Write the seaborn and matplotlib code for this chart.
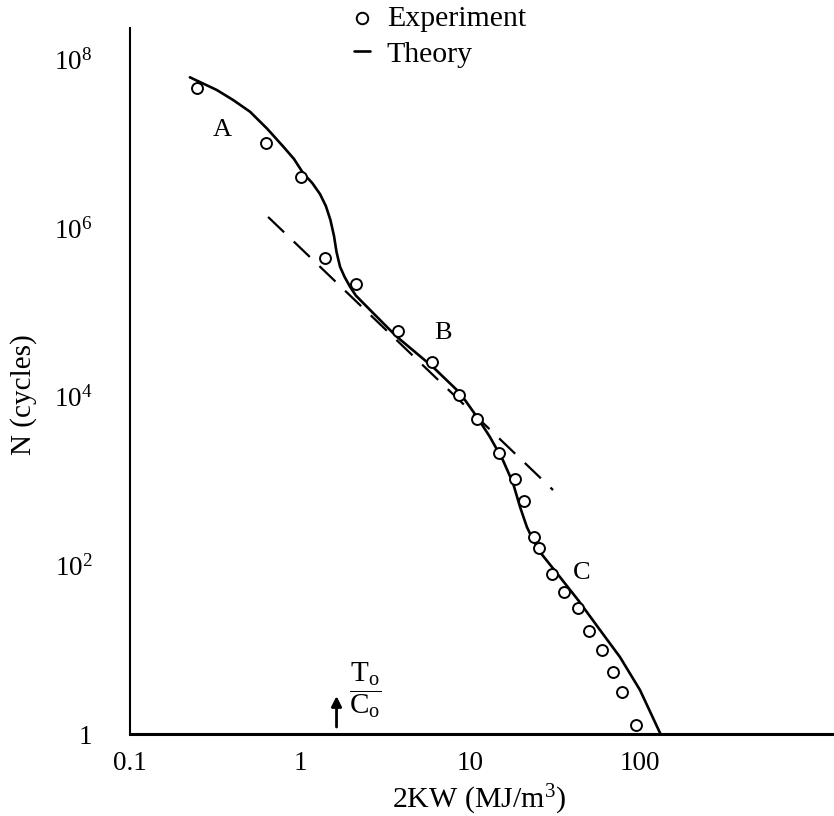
import matplotlib
matplotlib.use("Agg")
import matplotlib.pyplot as plt
import seaborn as sns
import numpy as np
import pandas as pd
from matplotlib.ticker import NullLocator

# ---------------- data ----------------
exp_x = [0.248, 0.628, 1.01, 1.40, 2.13, 3.79, 6.00, 8.65, 11.0, 14.8, 18.5,
         20.8, 23.8, 25.6, 30.5, 35.5, 43.3, 50.3, 59.4, 69.3, 78.0, 95.1]
exp_y = [4.64e7, 1.03e7, 4.08e6, 4.47e5, 2.16e5, 6.08e4, 2.61e4, 1.05e4, 5.41e3,
         2.17e3, 1.05e3, 581, 217, 163, 78.6, 48.0, 31.0, 16.5, 9.92, 5.48, 3.18, 1.28]

theory_x = [0.225, 0.324, 0.404, 0.508, 0.640, 0.798, 0.922, 1.045, 1.18, 1.31,
            1.42, 1.51, 1.585, 1.64, 1.72, 1.83, 1.97, 2.13, 2.36, 3.09, 3.71,
            6.05, 8.73, 11.0, 13.1, 15.6, 17.9, 19.7, 21.6, 23.5, 25.8, 33.8,
            43.2, 58.2, 76.2, 100, 132]
theory_y = [6.17e7, 4.36e7, 3.32e7, 2.41e7, 1.52e7, 9.27e6, 6.62e6, 4.48e6, 3.44e6,
            2.55e6, 1.83e6, 1.25e6, 8.08e5, 5.22e5, 3.49e5, 2.64e5, 2.02e5, 1.59e5,
            1.29e5, 7.45e4, 5.16e4, 2.26e4, 1.11e4, 5.76e3, 3.34e3, 1.78e3, 949,
            493, 286, 200, 144, 72.8, 38.9, 17.1, 8.19, 3.32, 1.0]

extrap_x = [0.649, 30.8]
extrap_y = [1.36e6, 784]

x_ticks = [0.1, 1, 10, 100]
x_tick_labels = ["0.1", "1", "10", "100"]
y_ticks = [1, 1e2, 1e4, 1e6, 1e8]
y_tick_labels = ["1", "$10^{2}$", "$10^{4}$", "$10^{6}$", "$10^{8}$"]

region_labels = ["A", "B", "C"]
region_x = [0.351, 6.90, 45.6]
region_y = [1.46e7, 5.71e4, 81.3]

# ---------------- style ----------------
sns.set_theme(style="white")
plt.rcParams["font.family"] = ["Liberation Serif", "DejaVu Serif"]
plt.rcParams["mathtext.fontset"] = "custom"
plt.rcParams["mathtext.rm"] = "Liberation Serif"
plt.rcParams["mathtext.it"] = "Liberation Serif:italic"
plt.rcParams["mathtext.default"] = "regular"
plt.rcParams["text.color"] = "black"
plt.rcParams["axes.labelcolor"] = "black"
plt.rcParams["xtick.color"] = "black"
plt.rcParams["ytick.color"] = "black"

fig = plt.figure(figsize=(8.34, 8.16), dpi=100)
ax = fig.add_axes([130 / 834, 82 / 816, 704 / 834, 706 / 816])

df_theory = pd.DataFrame({"x": theory_x, "y": theory_y})
df_extrap = pd.DataFrame({"x": extrap_x, "y": extrap_y})
df_exp = pd.DataFrame({"x": exp_x, "y": exp_y})

sns.lineplot(data=df_extrap, x="x", y="y", ax=ax, color="black", lw=1.6,
             estimator=None, sort=False, linestyle=(0, (10, 6)), zorder=2)
sns.lineplot(data=df_theory, x="x", y="y", ax=ax, color="black", lw=1.9,
             estimator=None, sort=False, label="Theory", zorder=2)
sns.scatterplot(data=df_exp, x="x", y="y", ax=ax, marker="o", s=62,
                facecolor="white", edgecolor="black", linewidth=1.4,
                label="Experiment", zorder=3)

ax.set_xscale("log")
ax.set_yscale("log")
ax.set_xlim(0.1, 1384)
ax.set_ylim(1, 10 ** 8.375)
ax.set_xticks(x_ticks, labels=x_tick_labels)
ax.set_yticks(y_ticks, labels=y_tick_labels)
ax.xaxis.set_minor_locator(NullLocator())
ax.yaxis.set_minor_locator(NullLocator())

for s in ["top", "right"]:
    ax.spines[s].set_visible(False)
ax.spines["left"].set_linewidth(1.5)
ax.spines["bottom"].set_linewidth(2.2)
ax.spines["left"].set_color("black")
ax.spines["bottom"].set_color("black")

ax.tick_params(axis="both", direction="in", length=10, width=1.5, labelsize=19.5)
ax.tick_params(axis="y", pad=27)
ax.tick_params(axis="x", pad=12, width=1.2)

ax.set_xlabel("2KW (MJ/m$^{3}$)", fontsize=21.5)
ax.set_ylabel("N (cycles)", fontsize=21)
ax.xaxis.set_label_coords(0.4957, -0.0935)
ax.xaxis.label.set_verticalalignment("center")
ax.yaxis.set_label_coords(-0.1513, 0.480)
ax.yaxis.label.set_verticalalignment("center")

for lab, lx, ly in zip(region_labels, region_x, region_y):
    ax.text(lx, ly, lab, fontsize=19, ha="center", va="center")

# T0/C0 marker with arrow
ax.annotate("", xy=(1.64, 2.82), xytext=(1.64, 1.21),
            arrowprops=dict(arrowstyle="-|>", color="black", lw=2,
                            mutation_scale=15, shrinkA=0, shrinkB=0))
ax.text(2.41, 3.33, r"$\dfrac{T_{o}}{C_{o}}$", fontsize=21, ha="center", va="center")

handles, labels = ax.get_legend_handles_labels()
order = [labels.index("Experiment"), labels.index("Theory")]
leg = ax.legend([handles[i] for i in order], [labels[i] for i in order],
                loc="upper left", bbox_to_anchor=(354 / 834, 1 - 5 / 816),
                bbox_transform=fig.transFigure, frameon=False, fontsize=21.5,
                handlelength=0.55, handletextpad=0.55, labelspacing=0.3,
                borderpad=0, borderaxespad=0, markerscale=1.05)
for t in leg.get_texts():
    t.set_color("black")

fig.savefig("out.png", dpi=100, facecolor="white")
